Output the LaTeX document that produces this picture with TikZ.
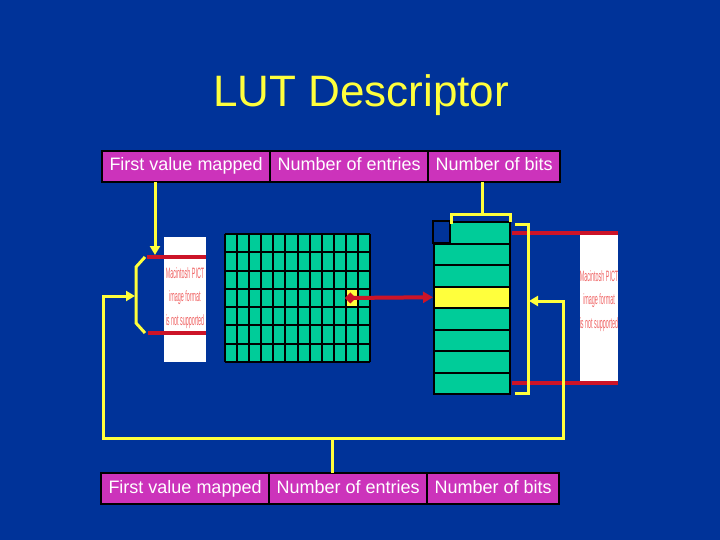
\documentclass[tikz,border=0pt]{standalone}
\usepackage{fontspec}
\setmainfont{Liberation Sans}
\usetikzlibrary{matrix,arrows.meta,positioning}
\definecolor{slideblue}{RGB}{0,51,153}
\definecolor{barmagenta}{RGB}{204,51,187}
\definecolor{lutgreen}{RGB}{0,204,153}
\definecolor{linkyellow}{RGB}{255,255,60}
\definecolor{ptrred}{RGB}{204,20,40}
\definecolor{pictred}{RGB}{240,100,100}
\newcommand{\pictmsg}{\scalebox{0.45}[1.25]{\fontsize{12}{19}\selectfont\color{pictred}%
  \begin{tabular}{@{}c@{}}Macintosh PICT\\image format\\is not supported\end{tabular}}}
\tikzset{
  descbar/.style={matrix of nodes, column sep=-2pt, inner sep=0pt, outer sep=0pt,
    nodes={draw=black, line width=2pt, fill=barmagenta, text=white, font=\fontsize{18}{20}\selectfont,
      minimum height=31pt, inner xsep=7.5pt, inner ysep=2pt, text height=13pt, text depth=4pt}},
  yline/.style={draw=linkyellow, line width=3pt},
  rline/.style={draw=ptrred, line width=4pt},
  gridline/.style={draw=black, line width=2pt},
  lutrow/.style={draw=black, line width=2pt, fill=lutgreen, minimum width=76pt, minimum height=21.5pt, inner sep=0pt},
  pictbox/.style={fill=white, inner sep=0pt},
  tip/.style={-{Triangle[length=9pt,width=10pt]}}
}
\begin{document}
\begin{tikzpicture}[x=1pt,y=-1pt]
  \fill[slideblue] (0,0) rectangle (720,540);
  \node[text=linkyellow, font=\fontsize{44}{48}\selectfont] (title) at (361,95) {LUT Descriptor};
  \matrix (topbar) [descbar, anchor=north west] at (101,150)
  {
    First value mapped & Number of entries & Number of bits \\};
  \matrix (botbar) [descbar, anchor=north west] at (100,472)
  {
    First value mapped & Number of entries & Number of bits \\};
  % image grid
  \fill[lutgreen] (225,234) rectangle (370,362);
  \foreach \c in {0,...,12}
    \draw[gridline] ({225+\c*145/12},234) -- ({225+\c*145/12},362);
  \foreach \r in {0,...,7}
    \draw[gridline] (225,{234+\r*128/7}) -- (370,{234+\r*128/7});
  \node[draw=black, line width=2pt, fill=linkyellow, minimum width=12.08pt, minimum height=18.29pt, inner sep=0pt]
    (hit) at ({225+10.5*145/12},{234+3.5*128/7}) {};
  % lookup table
  \foreach \i in {0,...,7}
    \node[lutrow] (lut\i) at (472,{232.75+\i*21.5}) {};
  \node[lutrow, fill=linkyellow] (lut3) at (472,{232.75+3*21.5}) {};
  \filldraw[fill=slideblue, draw=black, line width=2pt] (lut0.north west) rectangle ++(17,21.5);
  \draw[rline, {Diamond[length=11pt,width=11pt]}-{Triangle[length=10pt,width=11pt]}] (hit.west) -- (lut3.west);
  % unsupported pictures
  \node[pictbox, minimum width=42pt, minimum height=125pt] (pictL) at (185,299.5) {};
  \node[inner sep=0pt] (msgL) at (185,297) {\pictmsg};
  \node[pictbox, minimum width=38pt, minimum height=147pt] (pictR) at (599,308.5) {};
  \node[inner sep=0pt] (msgR) at (599,300) {\pictmsg};
  \draw[rline] (147,257) -- (pictL.east |- 0,257);
  \draw[rline] (148,333) -- (pictL.east |- 0,333);
  \draw[rline] (512,233) -- (pictR.east |- 0,233);
  \draw[rline] (512,383) -- (pictR.east |- 0,383);
  % links
  \draw[yline, tip] (topbar-1-1.south -| 155,0) -- (155,255);
  \draw[yline] (145,257) -- (136,267) -- (136,323) -- (145,333);
  \draw[yline] (topbar-1-3.south -| 482,0) -- (482,215);
  \draw[yline] (451,224) -- (451,215) -- (510,215) -- (510,222);
  \draw[yline] (515,225) -- (528,225) -- (528,393) -- (515,393);
  \draw[yline, {Triangle[length=9pt,width=10pt]}-{Triangle[length=9pt,width=10pt]}]
    (135,296) -- (103,296) -- (103,438) -- (563,438) -- (563,301) -- (529,301);
  \draw[yline] (botbar-1-2.north -| 332,0) -- (332,438);
\end{tikzpicture}
\end{document}
